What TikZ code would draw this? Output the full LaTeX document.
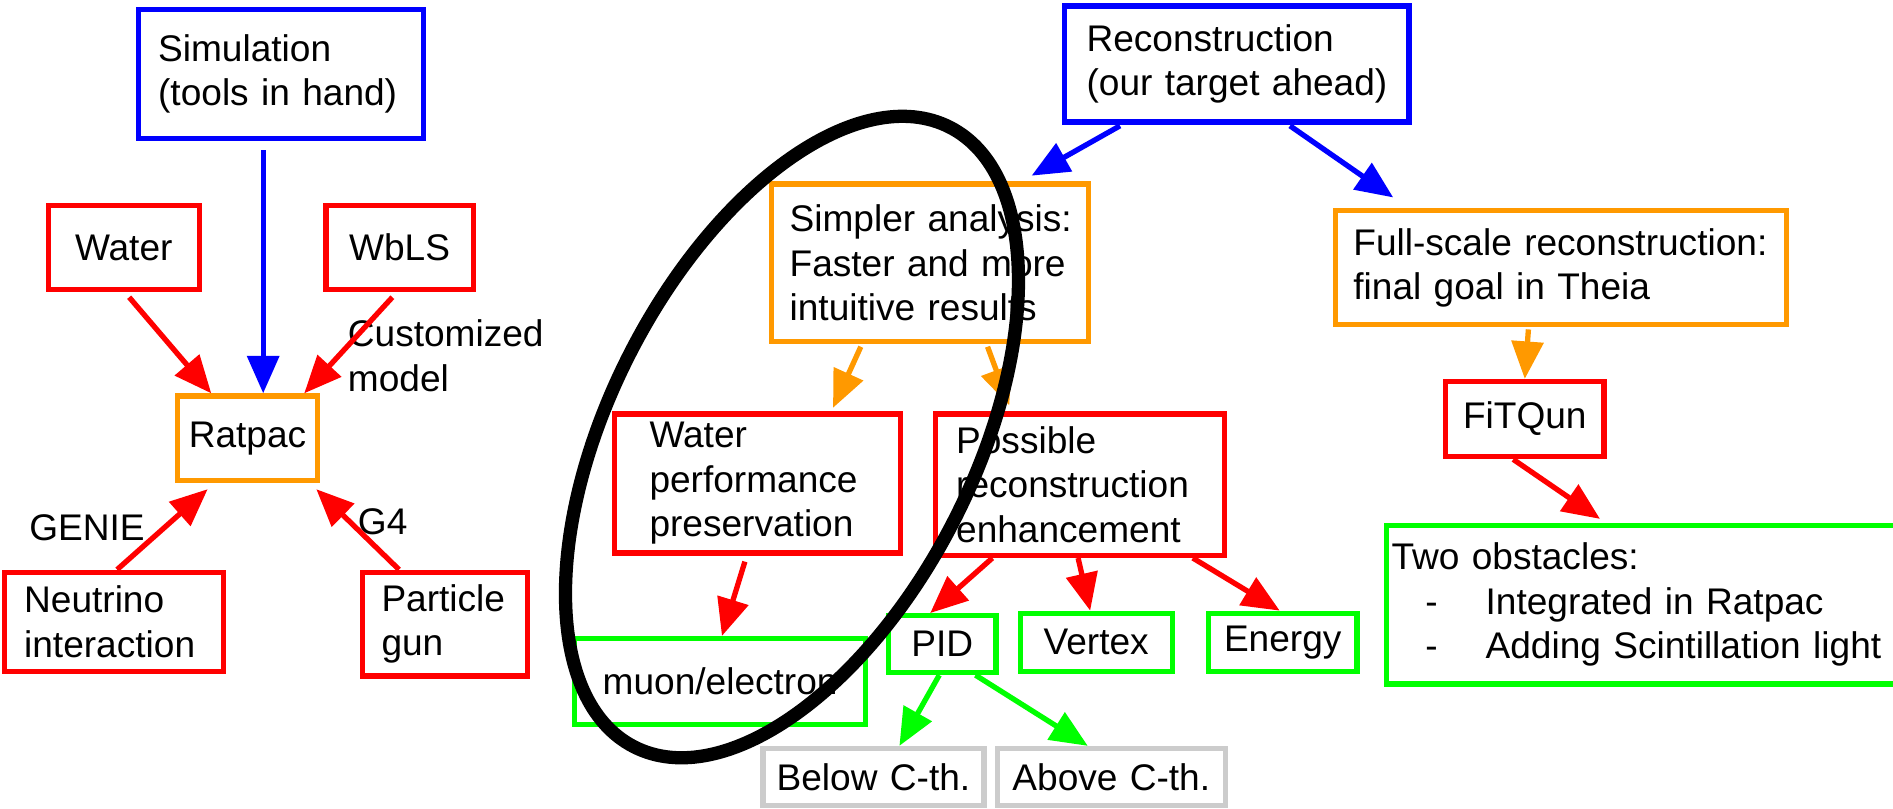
\documentclass[tikz,border=0pt]{standalone}
\usepackage{fontspec}
\setmainfont{Liberation Sans}
\usetikzlibrary{arrows.meta}
\definecolor{cblue}{RGB}{0,0,255}
\definecolor{cred}{RGB}{255,0,0}
\definecolor{corange}{RGB}{255,153,0}
\definecolor{cgreen}{RGB}{0,255,0}
\definecolor{cgray}{RGB}{204,204,204}
\begin{document}
\begin{tikzpicture}[x=1pt,y=1pt,
  box/.style={draw, line width=4.4pt, fill=white, inner ysep=0pt, font=\fontsize{30.7}{36.8}\selectfont, align=left},
  cbox/.style={box, align=center, inner xsep=4pt},
  lbl/.style={inner sep=0pt, font=\fontsize{30.7}{36.8}\selectfont, align=left},
  arr/.style={line width=4.4pt, -{Triangle[length=31pt,width=26pt]}},
  bluebox/.style={draw=cblue}, redbox/.style={draw=cred}, orabox/.style={draw=corange},
  grnbox/.style={draw=cgreen}, graybox/.style={draw=cgray}]
\useasboundingbox (0,0) rectangle (1568,-669.3);
% left part
\node[box, bluebox, minimum width=236.4pt, minimum height=107pt, text width=203.6pt, inner xsep=16.4pt] (sim) at (232.8,-61.2) {Simulation\\\mbox{(tools in hand)}};
\node[cbox, redbox, minimum width=125pt, minimum height=70pt, text width=117pt] (water) at (102.5,-205) {Water};
\node[cbox, redbox, minimum width=122pt, minimum height=70pt, text width=114pt] (wbls) at (331,-205) {WbLS};
\node[cbox, orabox, minimum width=116pt, minimum height=70pt, text width=108pt] (rat) at (205,-363) {Ratpac};
\node[box, redbox, minimum width=181pt, minimum height=82pt, text width=149pt, inner xsep=16pt] (neu) at (94.5,-515) {Neutrino\\\mbox{interaction}};
\node[box, redbox, minimum width=137pt, minimum height=86pt, text width=105pt, inner xsep=16pt] (gun) at (368.5,-517) {Particle\\gun};
\node[lbl, anchor=west] (cust) at (288,-294.5) {Customized\\model};
\node[lbl] (genie) at (72,-437) {GENIE};
\node[lbl] (g4) at (317,-432) {G4};
% right part
\node[box, bluebox, minimum width=285pt, minimum height=96pt, text width=249pt, inner xsep=18pt] (rec) at (1024.5,-53) {\mbox{Reconstruction}\\\mbox{(our target ahead)}};
\node[box, orabox, minimum width=262.5pt, minimum height=130.6pt, text width=232.5pt, inner xsep=15pt] (simp) at (770.3,-217.7) {\mbox{Simpler analysis:}\\\mbox{Faster and more}\\\mbox{intuitive results}};
\node[box, orabox, minimum width=374pt, minimum height=94.5pt, text width=344pt, inner xsep=15pt] (full) at (1293,-221.8) {\mbox{Full-scale reconstruction:}\\\mbox{final goal in Theia}};
\node[cbox, redbox, minimum width=131pt, minimum height=62pt, text width=123pt] (fit) at (1263,-347) {FiTQun};
\node[box, grnbox, minimum width=426.4pt, minimum height=131.6pt, text width=418.4pt, inner xsep=4pt] (two) at (1361.8,-500.8) {\mbox{Two obstacles:}\\\mbox{\hspace*{28pt}\makebox[50pt][l]{-}Integrated in Ratpac}\\\mbox{\hspace*{28pt}\makebox[50pt][l]{-}Adding Scintillation light}};
\node[box, redbox, minimum width=237pt, minimum height=115pt, text width=179pt, inner xsep=29pt] (wperf) at (627.5,-400.5) {Water\\\mbox{performance}\\\mbox{preservation}};
\node[box, redbox, minimum width=239pt, minimum height=117pt, text width=205pt, inner xsep=17pt] (poss) at (894.5,-401.5) {Possible\\\mbox{reconstruction}\\\mbox{enhancement}};
\node[cbox, grnbox, minimum width=241pt, minimum height=71pt, text width=233pt] (muon) at (596.5,-564.5) {muon/electron};
\node[cbox, grnbox, minimum width=89pt, minimum height=47pt, text width=81pt] (pid) at (780.5,-533.5) {PID};
\node[cbox, grnbox, minimum width=126pt, minimum height=48pt, text width=118pt] (vert) at (908,-532) {Vertex};
\node[cbox, grnbox, minimum width=123pt, minimum height=48pt, text width=115pt] (ener) at (1062.5,-532) {Energy};
\node[cbox, graybox, minimum width=183pt, minimum height=47pt, text width=175pt] (below) at (723.5,-643.5) {Below C-th.};
\node[cbox, graybox, minimum width=189pt, minimum height=47pt, text width=181pt] (above) at (920.5,-643.5) {Above C-th.};
% arrows
\draw[arr, cblue] ([xshift=-14.8pt,yshift=-7.4pt]sim.south) -- ([xshift=13pt]rat.north);
\draw[arr, cred] ([xshift=4.5pt,yshift=-4pt]water.south) -- ([xshift=-30pt]rat.north);
\draw[arr, cred] ([xshift=-6pt,yshift=-4pt]wbls.south) -- ([xshift=47pt]rat.north);
\draw[arr, cred] ([xshift=2.5pt]neu.north) -- ([xshift=-33pt,yshift=-5pt]rat.south);
\draw[arr, cred] ([xshift=-38pt]gun.north) -- ([xshift=57pt,yshift=-5pt]rat.south);
\draw[arr, cblue] ([xshift=-96.8pt,yshift=-1pt]rec.south) -- ([xshift=84.2pt,yshift=4.7pt]simp.north);
\draw[arr, cblue] ([xshift=44pt,yshift=-1pt]rec.south) -- ([xshift=-139pt,yshift=8.8pt]full.north);
\draw[arr, corange] ([xshift=-27pt,yshift=-1.6pt]full.south) -- (fit.north);
\draw[arr, cred] ([xshift=-9.6pt,yshift=-0.3pt]fit.south) -- ([xshift=-36.5pt,yshift=3pt]two.north);
\draw[arr, corange] ([xshift=-57.3pt,yshift=-2pt]simp.south) -- ([xshift=62.5pt,yshift=3pt]wperf.north);
\draw[arr, corange] ([xshift=47.7pt,yshift=-2pt]simp.south) -- ([xshift=-58.5pt,yshift=5pt]poss.north);
\draw[arr, cred] ([xshift=-10.5pt,yshift=-5pt]wperf.south) -- ([xshift=1.5pt]muon.north);
\draw[arr, cred] ([xshift=-72.5pt]poss.south) -- ([xshift=-10pt]pid.north);
\draw[arr, cred] ([xshift=-1.5pt]poss.south) -- ([xshift=-5pt]vert.north);
\draw[arr, cred] ([xshift=93.5pt]poss.south) -- ([xshift=-2.5pt]ener.north);
\draw[arr, cgreen] ([xshift=-2.5pt]pid.south) -- ([xshift=21.5pt]below.north);
\draw[arr, cgreen] ([xshift=27.5pt]pid.south) -- ([xshift=-19.5pt]above.north);
% highlight ellipse
\draw[line width=11pt, rotate around={-27:(656,-362)}] (656,-362) ellipse [x radius=151pt, y radius=288pt];
\end{tikzpicture}
\end{document}
